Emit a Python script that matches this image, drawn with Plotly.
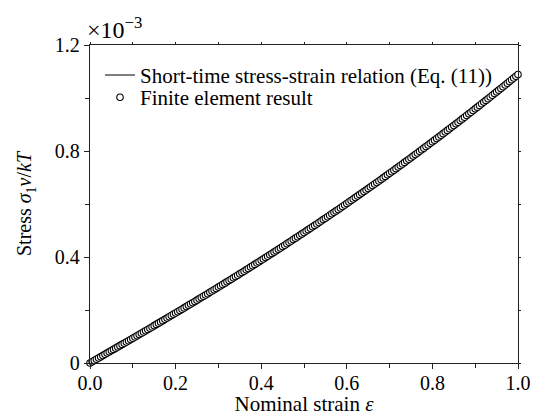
import plotly.graph_objects as go

# Nominal strain (x) and dimensionless stress sigma_1 v / kT in units of 1e-3 (y)
strain = [
    0.0, 0.005, 0.01, 0.015, 0.02, 0.025, 0.03, 0.035, 0.04, 0.045,
    0.05, 0.055, 0.06, 0.065, 0.07, 0.075, 0.08, 0.085, 0.09, 0.095,
    0.1, 0.105, 0.11, 0.115, 0.12, 0.125, 0.13, 0.135, 0.14, 0.145,
    0.15, 0.155, 0.16, 0.165, 0.17, 0.175, 0.18, 0.185, 0.19, 0.195,
    0.2, 0.205, 0.21, 0.215, 0.22, 0.225, 0.23, 0.235, 0.24, 0.245,
    0.25, 0.255, 0.26, 0.265, 0.27, 0.275, 0.28, 0.285, 0.29, 0.295,
    0.3, 0.305, 0.31, 0.315, 0.32, 0.325, 0.33, 0.335, 0.34, 0.345,
    0.35, 0.355, 0.36, 0.365, 0.37, 0.375, 0.38, 0.385, 0.39, 0.395,
    0.4, 0.405, 0.41, 0.415, 0.42, 0.425, 0.43, 0.435, 0.44, 0.445,
    0.45, 0.455, 0.46, 0.465, 0.47, 0.475, 0.48, 0.485, 0.49, 0.495,
    0.5, 0.505, 0.51, 0.515, 0.52, 0.525, 0.53, 0.535, 0.54, 0.545,
    0.55, 0.555, 0.56, 0.565, 0.57, 0.575, 0.58, 0.585, 0.59, 0.595,
    0.6, 0.605, 0.61, 0.615, 0.62, 0.625, 0.63, 0.635, 0.64, 0.645,
    0.65, 0.655, 0.66, 0.665, 0.67, 0.675, 0.68, 0.685, 0.69, 0.695,
    0.7, 0.705, 0.71, 0.715, 0.72, 0.725, 0.73, 0.735, 0.74, 0.745,
    0.75, 0.755, 0.76, 0.765, 0.77, 0.775, 0.78, 0.785, 0.79, 0.795,
    0.8, 0.805, 0.81, 0.815, 0.82, 0.825, 0.83, 0.835, 0.84, 0.845,
    0.85, 0.855, 0.86, 0.865, 0.87, 0.875, 0.88, 0.885, 0.89, 0.895,
    0.9, 0.905, 0.91, 0.915, 0.92, 0.925, 0.93, 0.935, 0.94, 0.945,
    0.95, 0.955, 0.96, 0.965, 0.97, 0.975, 0.98, 0.985, 0.99, 0.995,
    1.0,
]

stress_e3 = [
    0.0, 0.0047, 0.0093, 0.0140, 0.0187, 0.0233, 0.0280, 0.0327, 0.0373, 0.0420,
    0.0467, 0.0514, 0.0560, 0.0607, 0.0654, 0.0701, 0.0748, 0.0795, 0.0842, 0.0889,
    0.0936, 0.0983, 0.1030, 0.1077, 0.1124, 0.1172, 0.1219, 0.1266, 0.1314, 0.1361,
    0.1409, 0.1456, 0.1504, 0.1551, 0.1599, 0.1647, 0.1695, 0.1743, 0.1791, 0.1839,
    0.1887, 0.1935, 0.1983, 0.2031, 0.2080, 0.2128, 0.2177, 0.2225, 0.2274, 0.2323,
    0.2371, 0.2420, 0.2469, 0.2518, 0.2567, 0.2616, 0.2666, 0.2715, 0.2765, 0.2814,
    0.2864, 0.2913, 0.2963, 0.3013, 0.3063, 0.3113, 0.3163, 0.3213, 0.3263, 0.3314,
    0.3364, 0.3415, 0.3465, 0.3516, 0.3567, 0.3618, 0.3669, 0.3720, 0.3771, 0.3823,
    0.3874, 0.3926, 0.3977, 0.4029, 0.4081, 0.4133, 0.4185, 0.4237, 0.4289, 0.4342,
    0.4394, 0.4446, 0.4499, 0.4552, 0.4605, 0.4658, 0.4711, 0.4764, 0.4817, 0.4871,
    0.4924, 0.4978, 0.5032, 0.5085, 0.5139, 0.5193, 0.5248, 0.5302, 0.5356, 0.5411,
    0.5465, 0.5520, 0.5575, 0.5630, 0.5685, 0.5740, 0.5795, 0.5851, 0.5906, 0.5962,
    0.6018, 0.6074, 0.6130, 0.6186, 0.6242, 0.6299, 0.6355, 0.6412, 0.6468, 0.6525,
    0.6582, 0.6639, 0.6696, 0.6754, 0.6811, 0.6869, 0.6926, 0.6984, 0.7042, 0.7100,
    0.7159, 0.7217, 0.7275, 0.7334, 0.7392, 0.7451, 0.7510, 0.7569, 0.7628, 0.7688,
    0.7747, 0.7807, 0.7866, 0.7926, 0.7986, 0.8046, 0.8107, 0.8167, 0.8227, 0.8288,
    0.8349, 0.8409, 0.8470, 0.8532, 0.8593, 0.8654, 0.8716, 0.8777, 0.8839, 0.8901,
    0.8963, 0.9025, 0.9087, 0.9150, 0.9212, 0.9275, 0.9338, 0.9401, 0.9464, 0.9527,
    0.9590, 0.9654, 0.9717, 0.9781, 0.9845, 0.9909, 0.9973, 1.0037, 1.0102, 1.0166,
    1.0231, 1.0296, 1.0361, 1.0426, 1.0491, 1.0556, 1.0622, 1.0687, 1.0753, 1.0819,
    1.0885,
]

x_tickvals = [0.0, 0.2, 0.4, 0.6, 0.8, 1.0]
x_ticktext = ["0.0", "0.2", "0.4", "0.6", "0.8", "1.0"]
y_tickvals = [0.0, 0.4, 0.8, 1.2]
y_ticktext = ["0", "0.4", "0.8", "1.2"]

FONT = "Liberation Serif, Times New Roman, serif"
AX = "#222222"

fig = go.Figure()
fig.add_trace(go.Scatter(
    x=strain, y=stress_e3, mode="lines",
    name="Short-time stress-strain relation (Eq. (11))",
    line=dict(color="black", width=1), legend="legend",
))
fig.add_trace(go.Scatter(
    x=strain, y=stress_e3, mode="markers",
    name="Finite element result", cliponaxis=False, legend="legend2",
    marker=dict(symbol="circle", size=6.5, color="white",
                line=dict(color="black", width=1.1)),
))
# ghost trace to create top/right overlay axes (tiny mirrored ticks)
fig.add_trace(go.Scatter(x=[], y=[], xaxis="x2", yaxis="y2",
                         showlegend=False, hoverinfo="skip"))

common = dict(showgrid=False, zeroline=False, showline=True, linecolor=AX,
              linewidth=1.3, ticks="outside", tickcolor=AX, tickwidth=1.2,
              automargin=False)

legend_common = dict(xanchor="left", yanchor="top", bgcolor="rgba(0,0,0,0)",
                     font=dict(family=FONT, size=21, color="black"))

fig.update_layout(
    width=542, height=416,
    margin=dict(l=90, r=24, t=45, b=53),
    paper_bgcolor="white", plot_bgcolor="white",
    font=dict(family=FONT, size=20, color="black"),
    showlegend=True,
    legend=dict(x=0.0234, y=0.969, **legend_common),
    legend2=dict(x=0.0234, y=0.899, **legend_common),
    xaxis=dict(range=[0, 1], tickvals=x_tickvals, ticktext=x_ticktext,
               ticklen=5, ticklabelstandoff=-3,
               minor=dict(dtick=0.1, ticks="outside", ticklen=4,
                          tickcolor=AX, tickwidth=1.2),
               title=dict(text="Nominal strain <i>ε</i>", standoff=1,
                          font=dict(family=FONT, size=21)),
               tickfont=dict(family=FONT, size=20), **common),
    yaxis=dict(range=[0, 1.2], tickvals=y_tickvals, ticktext=y_ticktext,
               ticklen=5,
               minor=dict(dtick=0.2, ticks="outside", ticklen=4,
                          tickcolor=AX, tickwidth=1.2),
               title=dict(text="Stress <i>σ</i><sub>1</sub><i>v</i>/<i>kT</i>",
                          standoff=17, font=dict(family=FONT, size=20)),
               tickfont=dict(family=FONT, size=20), **common),
    xaxis2=dict(overlaying="x", side="top", range=[0, 1], anchor="y",
                tickvals=x_tickvals, showticklabels=False, ticklen=2,
                minor=dict(dtick=0.1, ticks="outside", ticklen=2,
                           tickcolor=AX, tickwidth=1.2),
                **common),
    yaxis2=dict(overlaying="y", side="right", range=[0, 1.2], anchor="x",
                tickvals=y_tickvals, showticklabels=False, ticklen=2,
                minor=dict(dtick=0.2, ticks="outside", ticklen=2,
                           tickcolor=AX, tickwidth=1.2),
                **common),
    annotations=[dict(text="×10<sup>−3</sup>", xref="paper", yref="paper",
                      x=-0.012, y=1.0, xanchor="left", yanchor="bottom",
                      showarrow=False, font=dict(family=FONT, size=24))],
)

fig.write_html("out.html")
